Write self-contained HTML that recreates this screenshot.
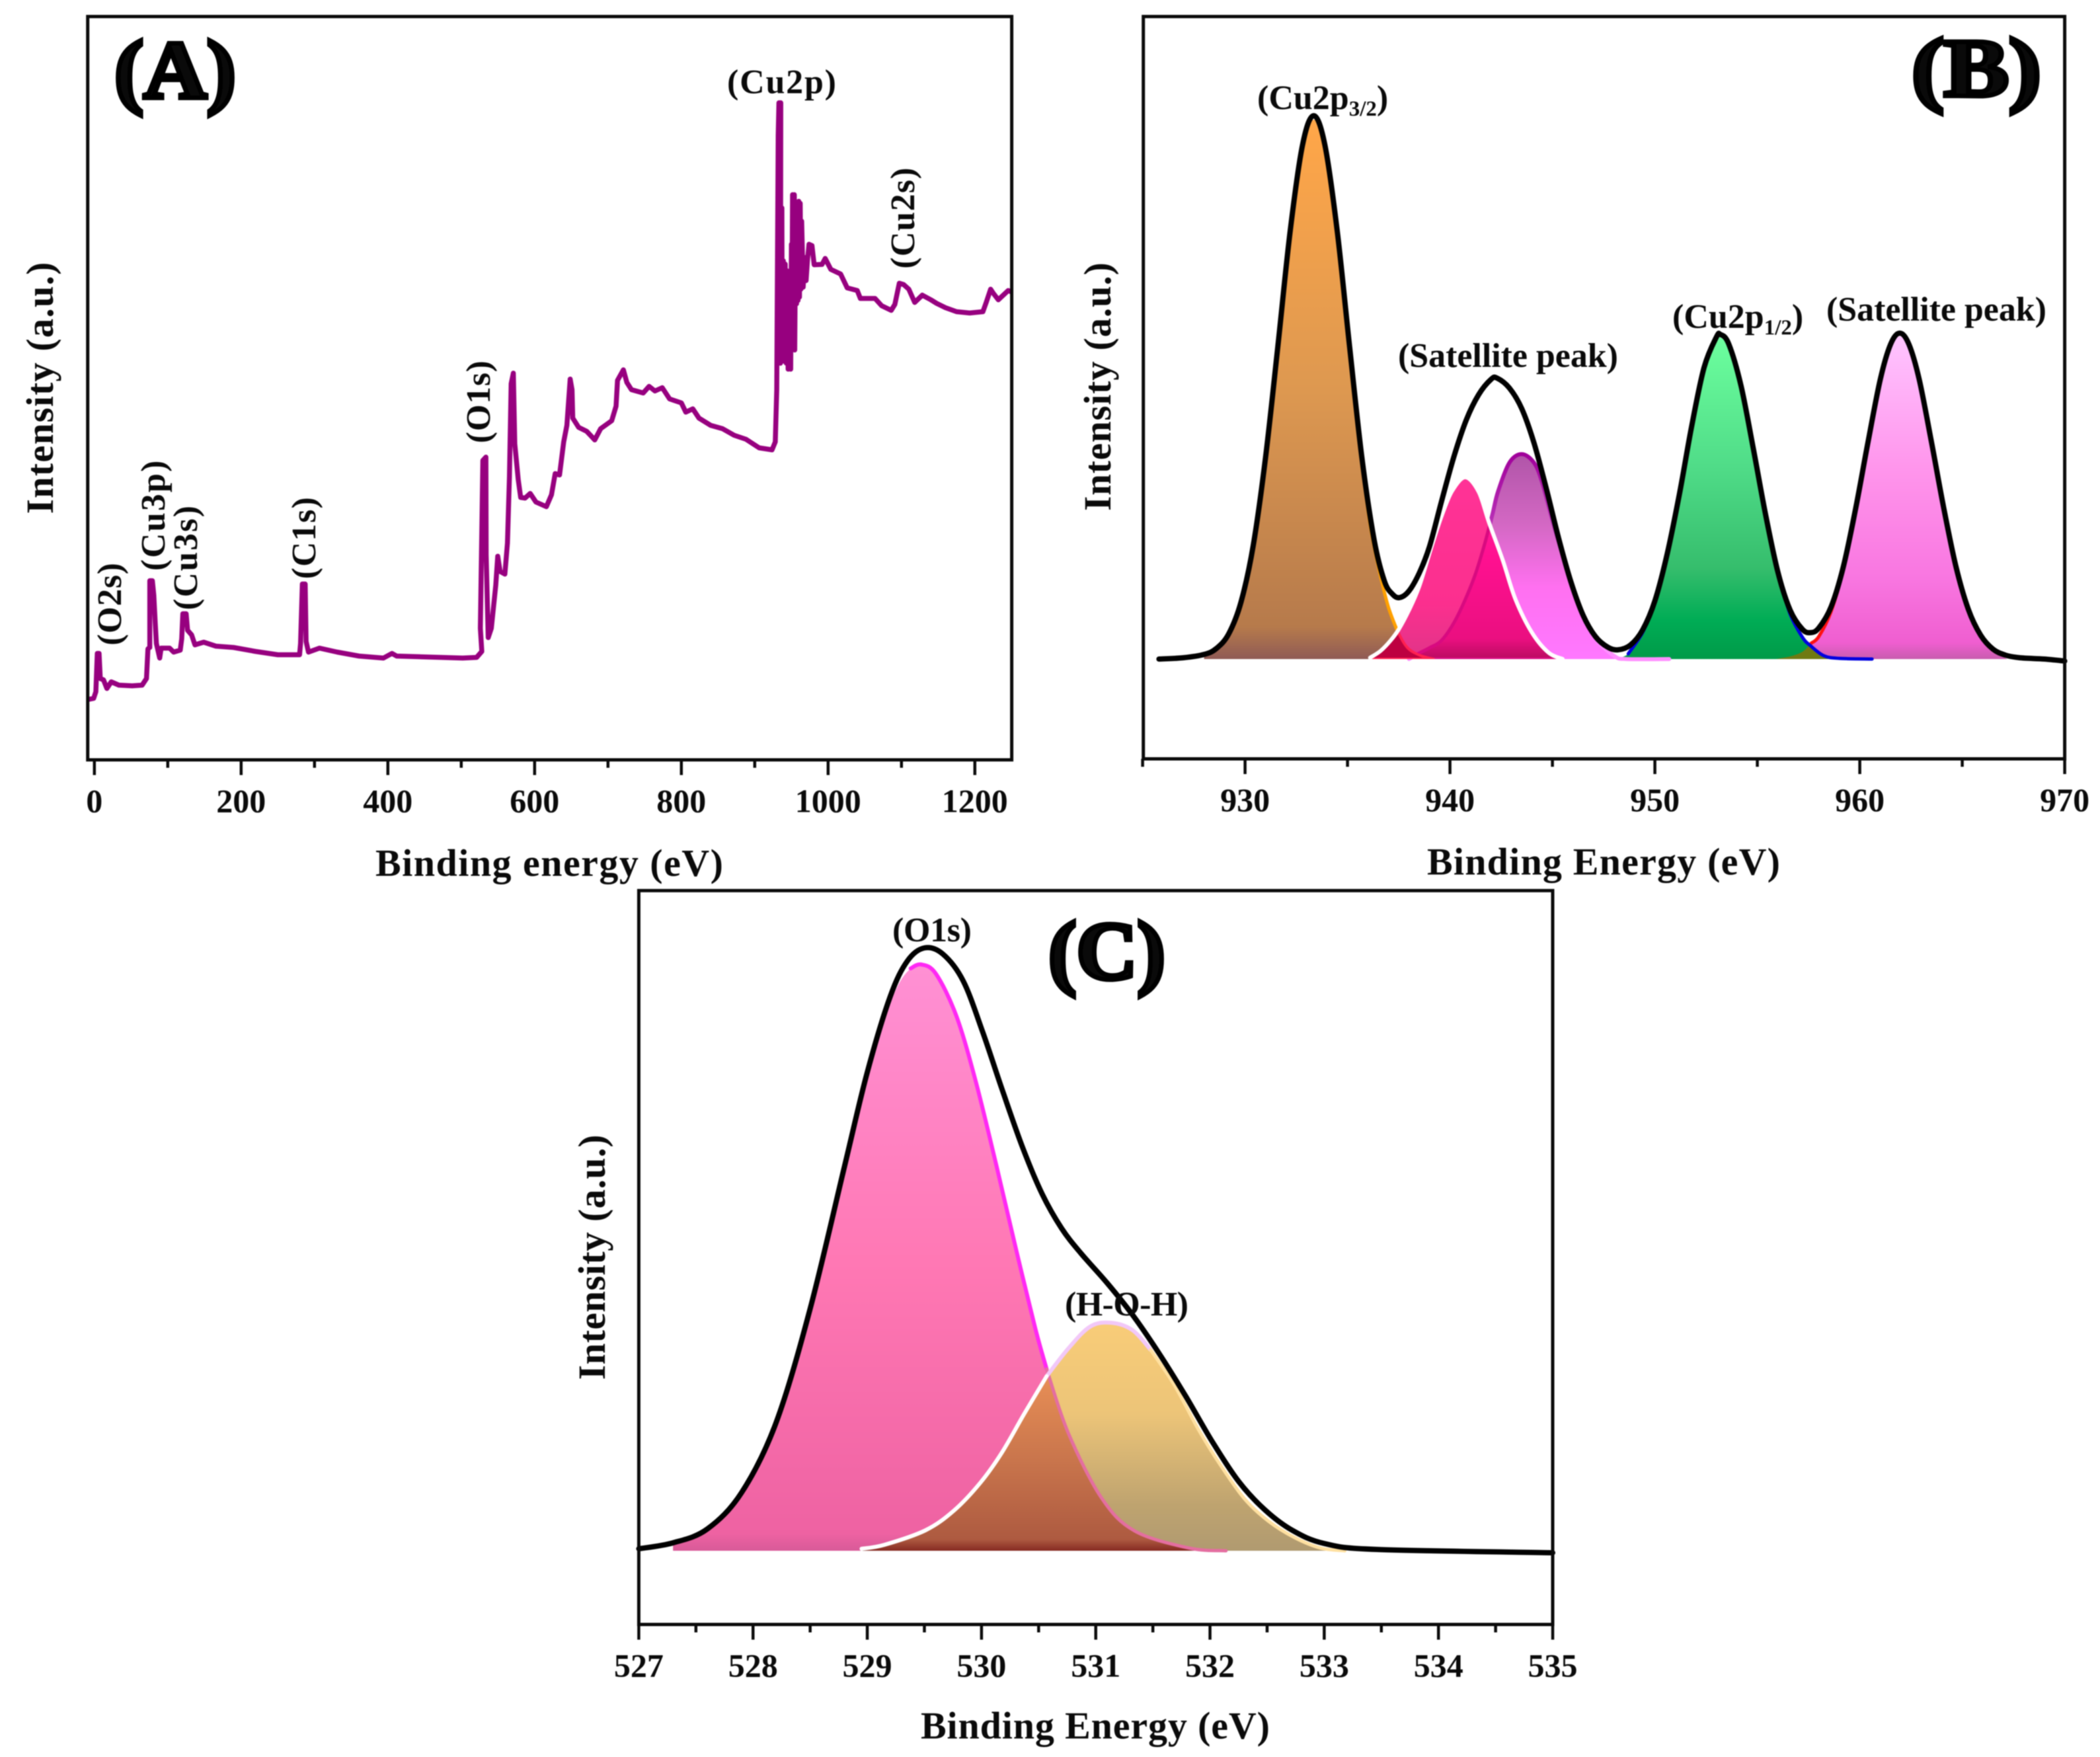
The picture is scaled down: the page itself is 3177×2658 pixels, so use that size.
<!DOCTYPE html>
<html lang="en">
<head>
<meta charset="utf-8">
<title>XPS spectra panels</title>
<style>
html,body{margin:0;padding:0;background:#fff;}
svg{display:block;filter:blur(0.8px);}
text{font-family:"Liberation Serif",serif;font-weight:bold;fill:#0a0a0a;}
.tick{font-size:50px;text-anchor:middle;}
.title{font-size:58px;}
.lab{font-size:52px;}
.big{font-size:125px;stroke:#000;stroke-width:7px;}
</style>
</head>
<body>
<svg id="fig" xmlns="http://www.w3.org/2000/svg" width="3177" height="2658" viewBox="0 0 3177 2658">
<defs>
<linearGradient id="gOrange" x1="0" y1="0" x2="0" y2="1"><stop offset="0" stop-color="#ffa648"/><stop offset="0.5" stop-color="#dd9850"/><stop offset="0.94" stop-color="#b67a4b"/><stop offset="1" stop-color="#8f5a55"/></linearGradient>
<linearGradient id="gPink" x1="0" y1="0" x2="0" y2="1"><stop offset="0" stop-color="#ff3296"/><stop offset="0.7" stop-color="#fb2f8e"/><stop offset="1" stop-color="#e03488"/></linearGradient>
<linearGradient id="gDeep" x1="0" y1="0" x2="0" y2="1"><stop offset="0" stop-color="#ff2aa0"/><stop offset="0.5" stop-color="#ff1090"/><stop offset="0.9" stop-color="#ea0f80"/><stop offset="1" stop-color="#b80a60"/></linearGradient>
<linearGradient id="gPurple" x1="0" y1="0" x2="0" y2="1"><stop offset="0" stop-color="#b055a8"/><stop offset="0.35" stop-color="#d468c4"/><stop offset="0.65" stop-color="#ff70f0"/><stop offset="1" stop-color="#ff78ff"/></linearGradient>
<linearGradient id="gPurpleLine" x1="0" y1="0" x2="0" y2="1"><stop offset="0" stop-color="#a0009a"/><stop offset="0.45" stop-color="#c040c0"/><stop offset="0.7" stop-color="#ff90ff"/><stop offset="1" stop-color="#ff90ff"/></linearGradient>
<linearGradient id="gGreen" x1="0" y1="0" x2="0" y2="1"><stop offset="0" stop-color="#6cff9e"/><stop offset="0.4" stop-color="#50dc88"/><stop offset="0.72" stop-color="#35bd6c"/><stop offset="0.88" stop-color="#00ac55"/><stop offset="1" stop-color="#009a48"/></linearGradient>
<linearGradient id="gMagenta" x1="0" y1="0" x2="0" y2="1"><stop offset="0" stop-color="#ffc4ff"/><stop offset="0.4" stop-color="#ff96ec"/><stop offset="0.75" stop-color="#f876e0"/><stop offset="0.95" stop-color="#ef5ed0"/><stop offset="1" stop-color="#c85cae"/></linearGradient>
<linearGradient id="gRose" x1="0" y1="0" x2="0" y2="1"><stop offset="0" stop-color="#ff90d4"/><stop offset="0.5" stop-color="#ff78b4"/><stop offset="0.97" stop-color="#ee62a2"/><stop offset="1" stop-color="#d85a98"/></linearGradient>
<linearGradient id="gSand" x1="0" y1="0" x2="0" y2="1"><stop offset="0" stop-color="#f8cc78"/><stop offset="0.4" stop-color="#ecc478"/><stop offset="0.8" stop-color="#bea36f"/><stop offset="1" stop-color="#b09a70"/></linearGradient>
<linearGradient id="gBrown" x1="0" y1="0" x2="0" y2="1"><stop offset="0.25" stop-color="#e68d55"/><stop offset="0.6" stop-color="#c9754c"/><stop offset="0.95" stop-color="#ad5a40"/><stop offset="1" stop-color="#862a22"/></linearGradient>
</defs>
<rect width="3177" height="2658" fill="#fff"/>

<g id="panelA">
  <g id="marksA"></g>
  <rect x="132.7" y="25" width="1397.9" height="1124.5" fill="none" stroke="#0a0a0a" stroke-width="5"/>
  <g id="ticksA"></g>
  <text class="big" x="173" y="148" textLength="184" lengthAdjust="spacingAndGlyphs">(A)</text>
  <text class="title" x="568" y="1325" textLength="526">Binding energy (eV)</text>
  <text class="title" text-anchor="middle" textLength="381" transform="translate(80,587) rotate(-90)">Intensity (a.u.)</text>
  <text class="lab" x="1100" y="141" textLength="165">(Cu2p)</text>
  <text class="lab" text-anchor="middle" textLength="153" transform="translate(1383,330) rotate(-90)">(Cu2s)</text>
  <text class="lab" text-anchor="middle" textLength="125" transform="translate(741,608) rotate(-90)">(O1s)</text>
  <text class="lab" text-anchor="middle" textLength="124" transform="translate(477,814) rotate(-90)">(C1s)</text>
  <text class="lab" text-anchor="middle" textLength="167" transform="translate(249,780) rotate(-90)">(Cu3p)</text>
  <text class="lab" text-anchor="middle" textLength="158" transform="translate(298,844) rotate(-90)">(Cu3s)</text>
  <text class="lab" text-anchor="middle" textLength="125" transform="translate(183,914) rotate(-90)">(O2s)</text>
</g>

<g id="panelB">
  <g id="marksB"></g>
  <rect x="1729.7" y="25" width="1393.9" height="1123" fill="none" stroke="#0a0a0a" stroke-width="5"/>
  <g id="ticksB"></g>
  <text class="big" x="2892" y="145" textLength="196" lengthAdjust="spacingAndGlyphs">(B)</text>
  <text class="title" x="2159" y="1323" textLength="534">Binding Energy (eV)</text>
  <text class="title" text-anchor="middle" textLength="376" transform="translate(1680,585) rotate(-90)">Intensity (a.u.)</text>
  <text class="lab" x="1902" y="165">(Cu2p<tspan font-size="33" dy="10">3/2</tspan><tspan dy="-10">)</tspan></text>
  <text class="lab" x="2115" y="555" textLength="333">(Satellite peak)</text>
  <text class="lab" x="2530" y="496">(Cu2p<tspan font-size="33" dy="10">1/2</tspan><tspan dy="-10">)</tspan></text>
  <text class="lab" x="2763" y="485" textLength="333">(Satellite peak)</text>
</g>

<g id="panelC">
  <g id="marksC"></g>
  <rect x="966.4" y="1347.3" width="1382.6" height="1110.2" fill="none" stroke="#0a0a0a" stroke-width="5"/>
  <g id="ticksC"></g>
  <text class="big" x="1586" y="1481" textLength="177" lengthAdjust="spacingAndGlyphs">(C)</text>
  <text class="title" x="1393" y="2630" textLength="528">Binding Energy (eV)</text>
  <text class="title" text-anchor="middle" textLength="371" transform="translate(915,1902) rotate(-90)">Intensity (a.u.)</text>
  <text class="lab" x="1350" y="1424" textLength="120">(O1s)</text>
  <text class="lab" x="1611" y="1990" textLength="187">(H-O-H)</text>
</g>
</svg>
<script>
// ---------- Panel A data ----------
const surveyEnergy = [-10,-1,2,4,6.4,8,12.4,17,23,33.4,51.5,65,71,73,75.5,75.5,79,81,83,84.5,89,91,102.5,108,117,119,120.5,125,127,132.5,137,149,165.6,189.6,219.7,250,279.6,281,283.4,287.3,288.6,291.8,306.8,331,360.7,394,405.6,412,
 502,521,528,526,529.5,533.6,534,536.8,541,547,549.7,553,559.5,563,565.7,568,571,573,577.7,581,587,594,601.8,616,623,628,634,639.6,644,648.5,651,652,660,671,682,690,705,711,713,721,725.7,732,748,756,764,774,784,800,806,815.6,824,840,856,872,888,906,923.6,928,930,
 932,933,935.5,935,937,937.5,939,940,941.5,943,944,945.5,947,949,950,950.5,951.5,952.5,954,954.5,956,957,958,959,960,961,962,963,964,966,968,970,972,974,978,981,991.7,996,1003.7,1017,1026,1039.7,1044,1064,1073,1086,1091,1097,1103,1110,1118,1128.4,1140,1148,1160,1175,1193,1211,1215.5,1221.5,1225,1232,1245.5,1251.5];
const surveyIntensity = [91,93,103,161,161,123,121,108,118,113,112,113,123,168,170,271,271,249,206,176,154,169,169,163,166,183,221,221,196,189,174,178,172,170,164,159,159,176,266,266,179,163,169,163,157,154,161,157,
 154,155,164,199,453,458,310,185,199,264,308,285,281,328,428,569,585,478,424,397,396,403,390,383,401,433,431,481,506,576,560,517,503,497,484,501,513,535,574,590,571,560,555,565,558,563,546,540,526,531,517,506,501,491,485,472,469,481,560,
 945,994,994,600,835,605,755,603,750,600,740,591,735,591,780,625,855,625,855,620,840,690,840,695,845,700,842,712,815,715,760,725,757,780,778,749,749.5,758.5,742,735,714,710,698,698,687,680,689,721,719,712,692,703,696,690.5,684,678,676,678,692,712,706,696,710,707];
const ticksAMajor = [0,200,400,600,800,1000,1200];
const ticksAMinor = [100,300,500,700,900,1100];

// ---------- Panel B data ----------
const bEnvelopeEnergy = [925.8,927,928,928.6,929.2,929.8,930.4,931,931.6,932.2,932.8,933.35,933.9,934.5,935.1,935.7,936.3,936.8,937.2,937.55,938,938.5,939,939.6,940.2,940.8,941.4,942,942.3,942.9,943.5,944.1,944.7,945.3,945.9,946.5,947.1,947.7,948.2,948.8,949.4,950,950.6,951.2,951.8,952.4,953,953.2,953.6,954.2,954.8,955.4,956,956.6,957.2,957.6,958,958.6,959.2,959.8,960.4,961,961.5,961.95,962.4,962.9,963.5,964.1,964.7,965.3,965.9,966.5,967.1,967.8,969,970];
const bEnvelopeIntensity = [0,2,7,16,38,86,172,305,473,647,777,822,777,647,473,305,180,118,98,93,103,130,170,240,307,362,400,423,425,410,379,327,258,183,117,66,34,18,14,21,44,88,159,250,353,441,487,491,477,414,319,219,132,74,45,40,47,79,140,228,328,423,476,493,476,423,328,228,139,75,36,15,6,2,0,-3];
const bOrangeEnergy = [928,928.6,929.2,929.8,930.4,931,931.6,932.2,932.8,933.35,933.9,934.5,935.1,935.7,936.1,936.55,936.98,937.4,937.9,938.5,939.2];
const bOrangeIntensity = [3,12,34,82,168,300,468,642,772,816,772,642,468,300,204,134,80,45,18,6,0];
const bPinkEnergy = [936.1,936.6,937.1,937.5,938,938.5,939.1,939.6,940.1,940.75,941.4,941.9,942.57,943.2,944,944.8,945.5];
const bPinkIntensity = [2,12,28,45,74,110,170,217,254,275,253,207,150,90,40,10,0];
const bPurpleEnergy = [938,938.5,939,939.55,940.1,940.6,941.2,941.7,942.08,942.35,942.9,943.5,944.1,944.5,945.05,945.6,946.1,946.75,947.3,948.05,948.6,950.7];
const bPurpleIntensity = [0,9,17,27,50,80,125,175,220,254,297,310,297,267,204,147,100,50,24,4,0,0];
const bGreenEnergy = [948,948.7,949.4,950,950.6,951.2,951.8,952.4,953,953.2,953.6,954.2,954.8,955.4,956,956.6,957.2,957.6,958.25,959,960.6];
const bGreenIntensity = [0,8,40,84,155,246,349,437,483,486,473,410,315,215,128,68,33,20,5,1,0];
const bMagentaEnergy = [955.9,956.6,957.2,957.63,958,958.6,959.2,959.8,960.4,961,961.5,961.95,962.4,962.9,963.5,964.1,964.7,965.3,965.9,966.5,967.2];
const bMagentaIntensity = [0,4,11,24,34,72,136,224,324,419,472,488,472,419,324,224,136,72,34,13,0];
const ticksBMajor = [930,940,950,960,970];
const ticksBMinor = [925,935,945,955,965];

// ---------- Panel C data ----------
const cEnvelopeEnergy = [527,527.3,527.6,527.9,528.2,528.5,528.8,529,529.2,529.35,529.5,529.66,529.84,530.01,530.18,530.36,530.53,530.70,530.87,531.10,531.33,531.56,531.79,532.02,532.25,532.48,532.72,533,533.46,535];
const cEnvelopeIntensity = [3,12,33,88,193,366,581,724,838,892,912,903,862,785,698,610,540,488,450,405,355,297,233,165,105,62,31,11,2,-3];
const cRoseEnergy = [527.3,527.65,527.94,528.23,528.48,528.69,528.89,529.09,529.26,529.38,529.47,529.6,529.78,529.95,530.13,530.3,530.47,530.57,530.76,531.05,531.34,531.82,532.14];
const cRoseIntensity = [8,43,104,217,362,511,652,779,852,881,887,873,809,710,583,458,337,275,178,80,30,4,0];
const cSandEnergy = [528.95,529.15,529.51,529.76,529.99,530.18,530.37,530.57,530.76,530.95,531.13,531.32,531.48,531.69,531.90,532.09,532.30,532.51,532.74,532.97,533.18];
const cSandIntensity = [3,9,31,61,103,149,206,264,306,339,345,334,304,250,183,130,79,45,20,4,0];
const ticksCMajor = [527,528,529,530,531,532,533,534,535];
const ticksCMinor = [527.5,528.5,529.5,530.5,531.5,532.5,533.5,534.5];

// ---------- Axis functions ----------
const xA = v => 142.8 + v * 1.11;
const yA = v => 1149.5 - v;
const xB = v => 1883.6 + (v - 930) * 31;
const yB = v => 997 - v;
const xC = v => 966.4 + (v - 527) * 172.83;
const yC = v => 2346 - v;

// ---------- Helpers ----------
const NS = 'http://www.w3.org/2000/svg';
function curve(es, is, fx, fy) {
  const p = es.map((e, i) => [fx(e), fy(is[i])]);
  let d = 'M' + p[0][0].toFixed(1) + ' ' + p[0][1].toFixed(1);
  for (let i = 0; i < p.length - 1; i++) {
    const a = p[Math.max(0, i - 1)], b = p[i], c = p[i + 1], e = p[Math.min(p.length - 1, i + 2)];
    const c1x = b[0] + (c[0] - a[0]) / 6, c1y = b[1] + (c[1] - a[1]) / 6;
    const c2x = c[0] - (e[0] - b[0]) / 6, c2y = c[1] - (e[1] - b[1]) / 6;
    d += 'C' + c1x.toFixed(1) + ' ' + c1y.toFixed(1) + ' ' + c2x.toFixed(1) + ' ' + c2y.toFixed(1) + ' ' + c[0].toFixed(1) + ' ' + c[1].toFixed(1);
  }
  return d;
}
function area(es, is, fx, fy) {
  return curve(es, is, fx, fy) + 'L' + fx(es[es.length - 1]).toFixed(1) + ' ' + fy(0).toFixed(1) + 'L' + fx(es[0]).toFixed(1) + ' ' + fy(0).toFixed(1) + 'Z';
}
function addPath(parent, d, fill, stroke, sw, clip) {
  const el = document.createElementNS(NS, 'path');
  el.setAttribute('d', d);
  el.setAttribute('fill', fill);
  el.setAttribute('stroke', stroke);
  el.setAttribute('stroke-width', sw);
  el.setAttribute('stroke-linejoin', 'round');
  el.setAttribute('stroke-linecap', 'round');
  if (clip) el.setAttribute('clip-path', 'url(#' + clip + ')');
  document.getElementById(parent).appendChild(el);
  return el;
}
function addClip(id, d) {
  const c = document.createElementNS(NS, 'clipPath');
  c.setAttribute('id', id);
  const p = document.createElementNS(NS, 'path');
  p.setAttribute('d', d);
  c.appendChild(p);
  document.querySelector('#fig defs').appendChild(c);
}
function drawTicks(parent, majors, minors, fx, axisY) {
  majors.forEach(v => {
    const t = document.createElementNS(NS, 'line');
    t.setAttribute('x1', fx(v));
    t.setAttribute('x2', fx(v));
    t.setAttribute('y1', axisY);
    t.setAttribute('y2', axisY + 23);
    t.setAttribute('stroke', '#0a0a0a');
    t.setAttribute('stroke-width', 4.5);
    
    
    document.getElementById(parent).appendChild(t);
    const l = document.createElementNS(NS, 'text');
    l.setAttribute('x', fx(v));
    l.setAttribute('y', axisY + 79);
    l.setAttribute('class', 'tick');
    l.textContent = String(v);
    
    
    document.getElementById(parent).appendChild(l);
  });
  minors.forEach(v => {
    const t = document.createElementNS(NS, 'line');
    t.setAttribute('x1', fx(v));
    t.setAttribute('x2', fx(v));
    t.setAttribute('y1', axisY);
    t.setAttribute('y2', axisY + 12);
    t.setAttribute('stroke', '#0a0a0a');
    t.setAttribute('stroke-width', 4.5);
    
    
    document.getElementById(parent).appendChild(t);
  });
}

// ---------- Panel A ----------
addClip('clipA', 'M132.7 25H1530.6V1149.5H132.7Z');
let surveyD = '';
surveyEnergy.forEach((e, i) => { surveyD += (i ? 'L' : 'M') + xA(e).toFixed(1) + ' ' + yA(surveyIntensity[i]).toFixed(1); });
const surveyLine = addPath('marksA', surveyD, 'none', '#97007f', 7.5, 'clipA');


drawTicks('ticksA', ticksAMajor, ticksAMinor, xA, 1149.5);

// ---------- Panel B ----------
const dOrange = area(bOrangeEnergy, bOrangeIntensity, xB, yB);
const dPink = area(bPinkEnergy, bPinkIntensity, xB, yB);
const dPurple = area(bPurpleEnergy, bPurpleIntensity, xB, yB);
const dGreen = area(bGreenEnergy, bGreenIntensity, xB, yB);
const dMagenta = area(bMagentaEnergy, bMagentaIntensity, xB, yB);
addClip('clipPink', dPink);
addClip('clipGreen', dGreen);

const fillMagenta = addPath('marksB', dMagenta, 'url(#gMagenta)', 'none', 0);


const lineMagenta = addPath('marksB', curve(bMagentaEnergy.slice(3, 8), bMagentaIntensity.slice(3, 8), xB, yB), 'none', '#ff1010', 5);


const fillGreen = addPath('marksB', dGreen, 'url(#gGreen)', 'none', 0);


const olive = addPath('marksB', dMagenta, '#6f7a12', 'none', 0, 'clipGreen');


const lineGreenRight = addPath('marksB', curve(bGreenEnergy.slice(14), bGreenIntensity.slice(14), xB, yB), 'none', '#0000e0', 5);


const lineGreenLeft = addPath('marksB', curve(bGreenEnergy.slice(1, 4), bGreenIntensity.slice(1, 4), xB, yB), 'none', '#0000e0', 5);



const fillPurple = addPath('marksB', dPurple, 'url(#gPurple)', 'none', 0);


const linePurple = addPath('marksB', curve(bPurpleEnergy, bPurpleIntensity, xB, yB), 'none', 'url(#gPurpleLine)', 6);



const fillOrange = addPath('marksB', dOrange, 'url(#gOrange)', 'none', 0);


const lineOrange = addPath('marksB', curve(bOrangeEnergy.slice(12, 18), bOrangeIntensity.slice(12, 18), xB, yB), 'none', '#ffa000', 5);



const fillPink = addPath('marksB', dPink, 'url(#gPink)', 'none', 0);


const deep = addPath('marksB', dPurple, 'url(#gDeep)', '#d80a80', 5, 'clipPink');


const dark = addPath('marksB', dOrange, '#bd0040', '#ff2050', 4, 'clipPink');


const linePink = addPath('marksB', curve(bPinkEnergy, bPinkIntensity, xB, yB), 'none', '#ffffff', 6);



const envelopeB = addPath('marksB', curve(bEnvelopeEnergy, bEnvelopeIntensity, xB, yB), 'none', '#000', 8);


drawTicks('ticksB', ticksBMajor, ticksBMinor, xB, 1148);

// ---------- Panel C ----------
const dRose = area(cRoseEnergy, cRoseIntensity, xC, yC);
const dSand = area(cSandEnergy, cSandIntensity, xC, yC);
addClip('clipRose', dRose);
const fillRose = addPath('marksC', dRose, 'url(#gRose)', 'none', 0);


const lineRose = addPath('marksC', curve(cRoseEnergy.slice(9, 18), cRoseIntensity.slice(9, 18), xC, yC), 'none', '#ff28f4', 6);


const fillSand = addPath('marksC', dSand, 'url(#gSand)', 'none', 0);


const overlapC = addPath('marksC', dSand, 'url(#gBrown)', 'none', 0, 'clipRose');


const overlapEdge = addPath('marksC', curve(cRoseEnergy.slice(17), cRoseIntensity.slice(17), xC, yC), 'none', '#e46ea0', 5);


const lineSandTop = addPath('marksC', curve(cSandEnergy.slice(7, 13), cSandIntensity.slice(7, 13), xC, yC), 'none', '#f2c8f8', 6);


const lineSandFall = addPath('marksC', curve(cSandEnergy.slice(12), cSandIntensity.slice(12), xC, yC), 'none', '#ffe0a0', 5);


const lineSand = addPath('marksC', curve(cSandEnergy.slice(0, 8), cSandIntensity.slice(0, 8), xC, yC), 'none', '#fff', 6);


const envelopeC = addPath('marksC', curve(cEnvelopeEnergy, cEnvelopeIntensity, xC, yC), 'none', '#000', 8);


drawTicks('ticksC', ticksCMajor, ticksCMinor, xC, 2457.5);
</script>
</body>
</html>
